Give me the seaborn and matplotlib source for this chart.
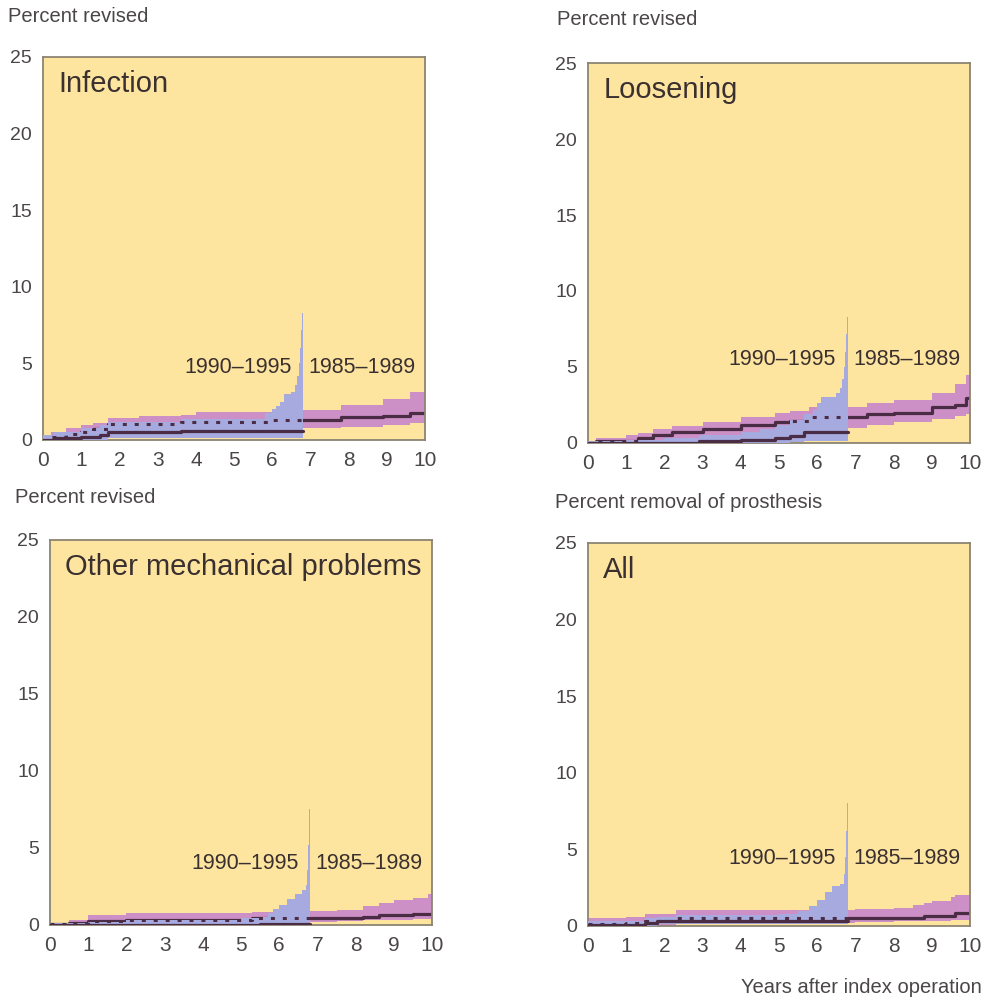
import numpy as np
import matplotlib
matplotlib.use("Agg")
import matplotlib.pyplot as plt
import seaborn as sns

# ---- Infection ----
inf_85_t   = [0, 0.2, 0.6, 1.0, 1.3, 1.7, 2.5, 3.6, 4.0, 5.0, 6.0, 7.8, 8.9, 9.6, 10]
inf_85_est = [0, 0.2, 0.4, 0.5, 0.7, 1.05, 1.05, 1.15, 1.15, 1.2, 1.3, 1.47, 1.58, 1.73, 1.73]
inf_85_lo  = [0, 0, 0, 0.05, 0.15, 0.35, 0.45, 0.55, 0.6, 0.65, 0.75, 0.85, 0.95, 1.1, 1.1]
inf_85_hi  = [0.2, 0.5, 0.8, 0.95, 1.1, 1.45, 1.55, 1.65, 1.8, 1.85, 1.95, 2.3, 2.65, 3.1, 3.4]
inf_90_t   = [0, 0.3, 1.0, 1.5, 1.7, 3.6, 5.8, 6.0, 6.1, 6.2, 6.3, 6.5, 6.6, 6.65, 6.7, 6.73, 6.76, 6.78, 6.8]
inf_90_est = [0, 0.1, 0.2, 0.3, 0.5, 0.6, 0.6, 0.6, 0.6, 0.6, 0.6, 0.6, 0.6, 0.6, 0.6, 0.6, 0.6, 0.6, 0.6]
inf_90_lo  = [0, 0, 0, 0, 0.1, 0.15, 0.15, 0.15, 0.15, 0.15, 0.15, 0.15, 0.15, 0.15, 0.15, 0.15, 0.15, 0.15, 0.15]
inf_90_hi  = [0.3, 0.55, 0.8, 1.0, 1.2, 1.35, 1.75, 2.0, 2.2, 2.5, 3.0, 3.1, 3.6, 4.2, 5.0, 6.0, 7.2, 8.3, 8.3]

# ---- Loosening ----
loo_85_t   = [0, 0.2, 1.0, 1.3, 1.7, 2.2, 3.0, 4.0, 4.9, 5.3, 5.8, 7.3, 8.0, 9.0, 9.6, 9.9, 10]
loo_85_est = [0, 0.1, 0.15, 0.3, 0.5, 0.75, 0.93, 1.15, 1.36, 1.47, 1.69, 1.9, 2.0, 2.38, 2.5, 2.95, 2.95]
loo_85_lo  = [0, 0, 0, 0, 0.05, 0.15, 0.3, 0.5, 0.7, 0.8, 1.0, 1.2, 1.35, 1.6, 1.75, 1.9, 1.9]
loo_85_hi  = [0.1, 0.3, 0.5, 0.65, 0.9, 1.1, 1.35, 1.7, 1.95, 2.1, 2.35, 2.65, 2.8, 3.3, 3.9, 4.5, 4.5]
loo_90_t   = [0, 1.0, 2.0, 2.9, 4.0, 4.5, 4.9, 5.3, 5.65, 5.9, 6.0, 6.1, 6.5, 6.6, 6.65, 6.7, 6.73, 6.76, 6.78, 6.8]
loo_90_est = [0, 0, 0, 0.1, 0.2, 0.2, 0.3, 0.45, 0.75, 0.75, 0.75, 0.75, 0.75, 0.75, 0.75, 0.75, 0.75, 0.75, 0.75, 0.75]
loo_90_lo  = [0, 0, 0, 0, 0, 0, 0, 0.05, 0.15, 0.15, 0.15, 0.15, 0.15, 0.15, 0.15, 0.15, 0.15, 0.15, 0.15, 0.15]
loo_90_hi  = [0.15, 0.2, 0.3, 0.55, 0.7, 0.9, 1.15, 1.5, 1.9, 2.2, 2.6, 3.0, 3.3, 3.6, 4.2, 5.0, 6.0, 7.2, 8.3, 8.3]

# ---- Other mechanical problems ----
oth_85_t   = [0, 0.5, 1.0, 2.0, 3.0, 5.3, 6.0, 7.5, 8.2, 8.6, 9.0, 9.5, 9.9, 10]
oth_85_est = [0.05, 0.15, 0.25, 0.3, 0.3, 0.43, 0.43, 0.43, 0.55, 0.68, 0.68, 0.7, 0.7, 0.7]
oth_85_lo  = [0, 0, 0, 0.05, 0.1, 0.15, 0.2, 0.25, 0.3, 0.35, 0.35, 0.4, 0.4, 0.4]
oth_85_hi  = [0.1, 0.35, 0.62, 0.75, 0.8, 0.85, 0.9, 1.0, 1.2, 1.45, 1.6, 1.75, 2.0, 2.1]
oth_90_t   = [0, 1.0, 2.0, 3.0, 5.0, 5.5, 5.7, 5.85, 6.0, 6.2, 6.4, 6.6, 6.7, 6.73, 6.76, 6.78, 6.8]
oth_90_est = [0, 0, 0, 0, 0.03, 0.05, 0.05, 0.05, 0.05, 0.05, 0.05, 0.05, 0.05, 0.05, 0.05, 0.05, 0.05]
oth_90_lo  = [0, 0, 0, 0, 0, 0, 0, 0, 0, 0, 0, 0, 0, 0, 0, 0, 0]
oth_90_hi  = [0.1, 0.2, 0.3, 0.35, 0.45, 0.55, 0.8, 1.05, 1.3, 1.7, 2.0, 2.3, 2.6, 3.6, 5.2, 7.5, 7.5]

# ---- All ----
all_85_t   = [0, 1.0, 1.5, 2.3, 5.5, 7.0, 8.0, 8.5, 8.8, 9.0, 9.5, 9.6, 10]
all_85_est = [0.1, 0.2, 0.3, 0.5, 0.5, 0.5, 0.5, 0.5, 0.62, 0.62, 0.62, 0.85, 0.85]
all_85_lo  = [0, 0, 0, 0.2, 0.22, 0.25, 0.3, 0.3, 0.35, 0.35, 0.4, 0.4, 0.4]
all_85_hi  = [0.5, 0.6, 0.75, 1.05, 1.05, 1.1, 1.2, 1.4, 1.5, 1.6, 1.9, 2.0, 2.3]
all_90_t   = [0, 1.5, 1.8, 2.3, 5.0, 5.5, 5.8, 6.0, 6.2, 6.4, 6.6, 6.7, 6.73, 6.76, 6.78, 6.8]
all_90_est = [0.05, 0.2, 0.3, 0.3, 0.3, 0.3, 0.3, 0.3, 0.3, 0.3, 0.3, 0.3, 0.3, 0.3, 0.3, 0.3]
all_90_lo  = [0, 0, 0.1, 0.15, 0.15, 0.15, 0.15, 0.15, 0.15, 0.15, 0.15, 0.15, 0.15, 0.15, 0.15, 0.15]
all_90_hi  = [0.35, 0.5, 0.6, 0.7, 0.8, 1.0, 1.3, 1.7, 2.2, 2.6, 2.75, 3.4, 4.5, 6.2, 8.0, 8.0]

titles = ["Infection", "Loosening", "Other mechanical problems", "All"]
ylabels = ["Percent revised", "Percent revised", "Percent revised",
           "Percent removal of prosthesis"]
cohort_labels = ["1990\u20131995", "1985\u20131989"]
cohort_label_y = [4.7, 5.5, 4.0, 4.4]
x_ticks = list(range(0, 11))
y_ticks = [0, 5, 10, 15, 20, 25]

BG = "#fde5a0"
PINK = "#cc8fc6"
BLUE = "#a6aadf"
LINE = "#4a2c44"
SPINE = "#8c8472"
TEXT = "#4a4646"
INK = "#3a3030"

sns.set_theme(style="white")
plt.rcParams["font.family"] = ["Liberation Sans", "DejaVu Sans"]

fig = plt.figure(figsize=(9.87, 9.99), dpi=100)
boxes = [
    (0.0436, 0.5596, 0.3870, 0.3834),
    (0.5957, 0.5566, 0.3870, 0.3803),
    (0.0507, 0.0741, 0.3870, 0.3854),
    (0.5957, 0.0731, 0.3870, 0.3834),
]
panels = [
    ((inf_85_t, inf_85_est, inf_85_lo, inf_85_hi), (inf_90_t, inf_90_est, inf_90_lo, inf_90_hi)),
    ((loo_85_t, loo_85_est, loo_85_lo, loo_85_hi), (loo_90_t, loo_90_est, loo_90_lo, loo_90_hi)),
    ((oth_85_t, oth_85_est, oth_85_lo, oth_85_hi), (oth_90_t, oth_90_est, oth_90_lo, oth_90_hi)),
    ((all_85_t, all_85_est, all_85_lo, all_85_hi), (all_90_t, all_90_est, all_90_lo, all_90_hi)),
]
ylabel_pos = [(0.008, 0.983), (0.564, 0.980), (0.015, 0.502), (0.562, 0.497)]


def step_value(t, v, x):
    """Value of a right-continuous step function at x."""
    idx = np.searchsorted(np.asarray(t), x, side="right") - 1
    return v[max(idx, 0)]


for i, (box, (old, new)) in enumerate(zip(boxes, panels)):
    ax = fig.add_axes(box)
    ax.set_facecolor(BG)
    t85, e85, lo85, hi85 = (np.asarray(a, float) for a in old)
    t90, e90, lo90, hi90 = (np.asarray(a, float) for a in new)

    # 1985-1989 confidence band and curve
    ax.fill_between(t85, lo85, hi85, step="post", color=PINK, lw=0, zorder=1)
    sns.lineplot(x=t85, y=e85, drawstyle="steps-post", color=LINE, lw=2.3,
                 ax=ax, zorder=2)

    # 1990-1995 confidence band
    ax.fill_between(t90, lo90, hi90, step="post", color=BLUE, lw=0, zorder=3)

    # 1985-1989 curve shown dotted where it runs through the 1990-1995 band
    end = t90[-1]
    keep = t85 < end
    td = np.append(t85[keep], end)
    ed = np.append(e85[keep], step_value(t85, e85, end))
    ax.plot(td, ed, drawstyle="steps-post", color=LINE, lw=2.2,
            linestyle=(0, (1.3, 2.6)), zorder=4)

    # 1990-1995 curve
    sns.lineplot(x=t90, y=e90, drawstyle="steps-post", color=LINE, lw=2.3,
                 ax=ax, zorder=5)

    ax.set_xlim(0, 10)
    ax.set_ylim(0, 25)
    ax.set_xticks(x_ticks)
    ax.set_yticks(y_ticks)
    ax.set_xlabel("")
    ax.set_ylabel("")
    for s in ax.spines.values():
        s.set_color(SPINE)
        s.set_linewidth(1.3)
    ax.tick_params(axis="both", which="both", direction="out", color=SPINE,
                   labelcolor=TEXT, width=1)
    ax.tick_params(axis="x", length=4, labelsize=15, pad=4)
    ax.tick_params(axis="y", length=5, labelsize=14, pad=3)

    ax.text(0.04, 0.93, titles[i], transform=ax.transAxes, fontsize=21,
            color=INK, ha="left", va="center")
    ax.text(6.5, cohort_label_y[i], cohort_labels[0], fontsize=15.5,
            color=INK, ha="right", va="center")
    ax.text(6.95, cohort_label_y[i], cohort_labels[1], fontsize=15.5,
            color=INK, ha="left", va="center")

    fig.text(ylabel_pos[i][0], ylabel_pos[i][1], ylabels[i], fontsize=14.5,
             color=TEXT, ha="left", va="center")

fig.text(0.995, 0.012, "Years after index operation", fontsize=14.5,
         color=TEXT, ha="right", va="center")

fig.savefig("out.png", dpi=100)
